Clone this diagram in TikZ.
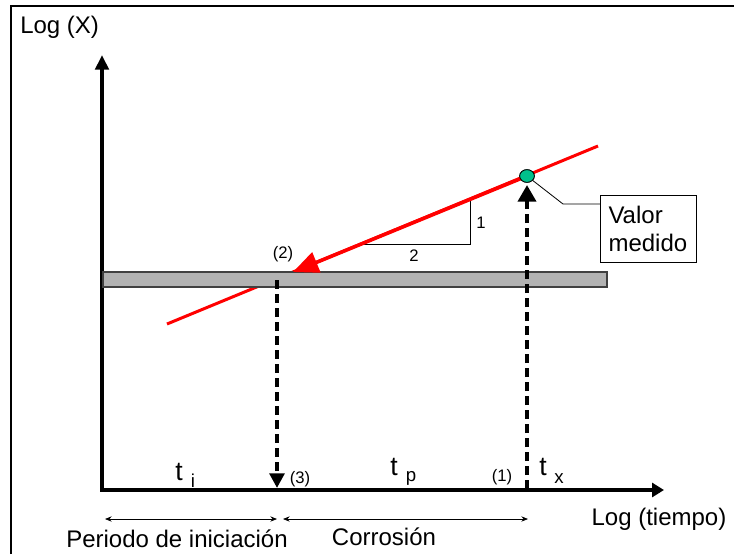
\documentclass[tikz,border=0pt]{standalone}
\usepackage{fontspec}
\setmainfont{Liberation Sans}
\usetikzlibrary{arrows.meta,shapes.geometric}

\tikzset{
  axis/.style={line width=3pt,{Triangle[length=11pt,width=10pt]}-{Triangle[length=9pt,width=10.5pt]}},
  dashline/.style={line width=2.9pt,dash pattern=on 6.5pt off 4pt},
  redline/.style={red,line width=2.25pt},
  bar/.style={fill=gray!60,draw=black!75,line width=1.1pt},
  dot/.style={ellipse,draw=black,fill={rgb,255:red,0;green,192;blue,140},line width=0.6pt,minimum width=11pt,minimum height=9.5pt,inner sep=0pt},
  lbl/.style={font=\fontsize{18}{21}\selectfont,inner sep=0pt},
  tlbl/.style={font=\fontsize{20}{23}\selectfont,inner sep=0pt},
  sublbl/.style={font=\fontsize{14}{16}\selectfont,inner sep=0pt},
  smalllbl/.style={font=\fontsize{12.5}{14}\selectfont,inner sep=0pt},
  span/.style={line width=0.6pt,{Stealth[length=5pt,width=4pt]}-{Stealth[length=5pt,width=4pt]}}
}

\begin{document}
\begin{tikzpicture}[x=0.75pt,y=-0.75pt]
  \useasboundingbox (0,0) rectangle (734,554);

  % frame
  \draw[line width=1.5pt] (11,554) -- (11,6) -- (734,6);

  % axes
  \coordinate (O) at (102,490);
  \coordinate (ytop) at (102,55);
  \coordinate (xend) at (664,490);
  \draw[axis] (ytop) -- (O) -- (xend);
  \node[lbl,anchor=base west] (ylabel) at (20,33) {Log (X)};
  \node[lbl,anchor=base] (xlabel) at (659,525) {Log (tiempo)};

  % red line and measured value
  \coordinate (r1) at (167,324);
  \coordinate (r2) at (598,146);
  \draw[redline] (r1) -- (r2);

  % slope triangle
  \draw[line width=0.75pt] (363,244) -- (470,244) -- (470,200);
  \node[smalllbl,anchor=base] (one) at (481,228) {1};
  \node[smalllbl,anchor=base] (two) at (414,261) {2};

  % threshold bar
  \filldraw[bar] (103,272) rectangle (607,287);

  \coordinate (hit) at (293,272);
  \node[dot] (valor) at (527,176) {};
  \draw[red,line width=2.7pt,-{Triangle[length=19pt,width=16pt]}] (valor.center) -- (hit);
  \node[dot] at (valor) {};
  \node[smalllbl,anchor=base] (lab2) at (283,258) {(2)};

  % dashed projections
  \coordinate (d1) at (277,280);
  \coordinate (d3) at (277,488);
  \draw[dashline,-{Triangle[length=11pt,width=11pt]}] (d1) -- (d3);
  \coordinate (u1) at (527,489);
  \coordinate (u2) at (527,185);
  \draw[dashline,-{Triangle[length=12.5pt,width=13.5pt]}] (u1) -- (u2);

  % callout
  \node[lbl,draw,line width=0.75pt,anchor=north west,text width=60pt,inner xsep=6pt,
        inner ysep=0pt,minimum height=50pt,align=left] (box) at (600,195) {Valor\\medido};
  \coordinate (elbow) at (563,204);
  \coordinate (callin) at (600,204);
  \draw[line width=0.6pt] (valor) -- (elbow) -- (callin);

  % times on the axis
  \node[tlbl,anchor=base] (ti) at (179,480) {t};
  \node[sublbl,anchor=base] (ii) at (193,487) {i};
  \node[smalllbl,anchor=base] (lab3) at (300,483) {(3)};
  \node[tlbl,anchor=base] (tp) at (394,475) {t};
  \node[sublbl,anchor=base] (pp) at (411,481) {p};
  \node[smalllbl,anchor=base] (lab1) at (502,481) {(1)};
  \node[tlbl,anchor=base] (tx) at (543,475) {t};
  \node[sublbl,anchor=base] (xx) at (559,483) {x};

  % periods
  \coordinate (p1) at (105,519);
  \coordinate (p2) at (277,519);
  \coordinate (p3) at (283,519);
  \coordinate (p4) at (528,519);
  \draw[span] (p1) -- (p2);
  \draw[span] (p3) -- (p4);
  \node[lbl,anchor=base] (inic) at (177,547) {Periodo de iniciación};
  \node[lbl,anchor=base] (corr) at (384,545) {Corrosión};

\end{tikzpicture}
\end{document}
